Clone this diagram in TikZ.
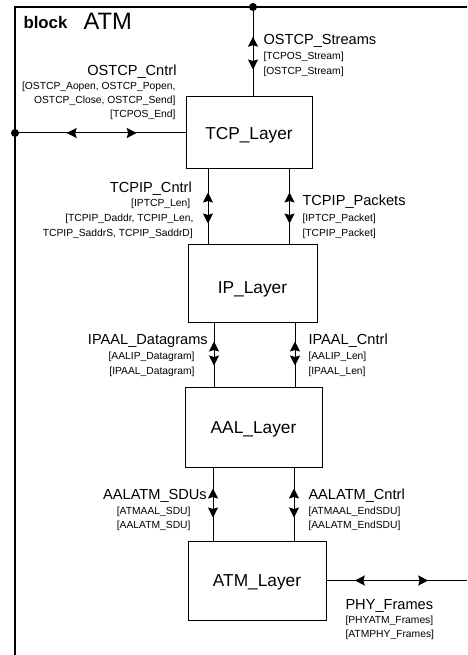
\documentclass[tikz,border=0pt]{standalone}
\usepackage{fontspec}
\setmainfont{Liberation Sans}
\usetikzlibrary{arrows.meta,decorations.markings}
\newcommand\lblbig{\fontsize{14.6}{16}\selectfont}
\newcommand\lblsmall{\fontsize{10.3}{12}\selectfont}
\newcommand\lblbox{\fontsize{17.3}{19}\selectfont}
\newcommand\lbltitle{\fontsize{23.7}{26}\selectfont}
\newcommand\lblblock{\fontsize{16.8}{18}\selectfont\bfseries}
\begin{document}
\begin{tikzpicture}[x=1pt,y=-1pt,
  line width=1pt,
  >={Stealth[length=10pt,width=10pt,inset=1.5pt]},
  box/.style={draw, line width=1pt, inner sep=0pt, font=\lblbox, text height=12.4pt, text depth=0pt},
  big/.style={inner sep=0pt, font=\lblbig},
  small/.style={inner sep=0pt, font=\lblsmall},
  bidir/.style 2 args={decoration={markings,
      mark=at position #1 with {\arrowreversed{>}},
      mark=at position #2 with {\arrow{>}}},
    postaction={decorate}},
  dotnode/.style={circle, fill, inner sep=0pt, minimum size=8pt}]
\useasboundingbox (0,0) rectangle (467,655);

% frame
\coordinate (fTL) at (15,7);
\coordinate (fTR) at (467,7);
\coordinate (fBL) at (15,655);
\draw[line width=1.3pt] (fTR) -- (fTL) -- (fBL);

\node[anchor=base west, inner sep=0pt, font=\lblblock] (blk) at (23,28.5) {block};
\node[anchor=base west, inner sep=0pt, font=\lbltitle] (atmT) at (83,29.5) {ATM};

% boxes
\node[box, minimum width=126pt, minimum height=72pt] (tcp) at (249,133) {TCP\_Layer};
\node[box, minimum width=129pt, minimum height=78pt, text height=21.4pt] (ip) at (252.5,283) {IP\_Layer};
\node[box, minimum width=137pt, minimum height=80pt] (aal) at (253.5,427) {AAL\_Layer};
\node[box, minimum width=138pt, minimum height=79pt] (atmL) at (257,580.5) {ATM\_Layer};

% dots
\node[dotnode] (d1) at (253,7) {};
\node[dotnode] (d2) at (15,133) {};

% x positions
\coordinate (xa) at (208,0);
\coordinate (xb) at (289.5,0);
\coordinate (xc) at (214,0);
\coordinate (xd) at (295,0);
\coordinate (xe) at (213,0);
\coordinate (xf) at (294,0);
\coordinate (pr) at (467,580.5);

% connectors
\draw[bidir={29.7pt}{62.5pt}] (d1.center) -- (d1.center |- tcp.north);
\draw[bidir={51.7pt}{121.7pt}] (d2.center) -- (tcp.west);
\draw[bidir={23pt}{54pt}] (tcp.south -| xa) -- (ip.north -| xa);
\draw[bidir={23pt}{54pt}] (tcp.south -| xb) -- (ip.north -| xb);
\draw[bidir={19pt}{43pt}] (ip.south -| xc) -- (aal.north -| xc);
\draw[bidir={19pt}{43pt}] (ip.south -| xd) -- (aal.north -| xd);
\draw[bidir={21pt}{50pt}] (aal.south -| xe) -- (atmL.north -| xe);
\draw[bidir={21pt}{50pt}] (aal.south -| xf) -- (atmL.north -| xf);
\draw[bidir={28.3pt}{101.7pt}] (atmL.east) -- (pr);

% labels
\node[big, anchor=base west] (l1) at (263,45) {OSTCP\_Streams};
\node[small, anchor=base west] (l1a) at (263,60) {[TCPOS\_Stream]};
\node[small, anchor=base west] (l1b) at (263,75) {[OSTCP\_Stream]};

\node[big, anchor=base east] (l2) at (177,76) {OSTCP\_Cntrl};
\node[small, anchor=base east] (l2a) at (176,89.5) {[OSTCP\_Aopen, OSTCP\_Popen,};
\node[small, anchor=base east] (l2b) at (176,104) {OSTCP\_Close, OSTCP\_Send]};
\node[small, anchor=base east] (l2c) at (176,118) {[TCPOS\_End]};

\node[big, anchor=base east] (l3) at (192.3,192) {TCPIP\_Cntrl};
\node[small, anchor=base east] (l3a) at (190.7,206) {[IPTCP\_Len]};
\node[small, anchor=base east] (l3b) at (194,221) {[TCPIP\_Daddr, TCPIP\_Len,};
\node[small, anchor=base east] (l3c) at (193.3,236) {TCPIP\_SaddrS, TCPIP\_SaddrD]};

\node[big, anchor=base west] (l4) at (302,205.5) {TCPIP\_Packets};
\node[small, anchor=base west] (l4a) at (302,221) {[IPTCP\_Packet]};
\node[small, anchor=base west] (l4b) at (302,236) {[TCPIP\_Packet]};

\node[big, anchor=base east] (l5) at (208.3,344.5) {IPAAL\_Datagrams};
\node[small, anchor=base east] (l5a) at (195,359) {[AALIP\_Datagram]};
\node[small, anchor=base east] (l5b) at (195,374) {[IPAAL\_Datagram]};

\node[big, anchor=base west] (l6) at (308,344.5) {IPAAL\_Cntrl};
\node[small, anchor=base west] (l6a) at (308,359) {[AALIP\_Len]};
\node[small, anchor=base west] (l6b) at (308,374) {[IPAAL\_Len]};

\node[big, anchor=base east] (l7) at (207.3,499) {AALATM\_SDUs};
\node[small, anchor=base east] (l7a) at (191,514) {[ATMAAL\_SDU]};
\node[small, anchor=base east] (l7b) at (191,528) {[AALATM\_SDU]};

\node[big, anchor=base west] (l8) at (308,499) {AALATM\_Cntrl};
\node[small, anchor=base west] (l8a) at (308,514) {[ATMAAL\_EndSDU]};
\node[small, anchor=base west] (l8b) at (308,528) {[AALATM\_EndSDU]};

\node[big, anchor=base west] (l9) at (345,609) {PHY\_Frames};
\node[small, anchor=base west] (l9a) at (345,623) {[PHYATM\_Frames]};
\node[small, anchor=base west] (l9b) at (345,637) {[ATMPHY\_Frames]};
\end{tikzpicture}
\end{document}
